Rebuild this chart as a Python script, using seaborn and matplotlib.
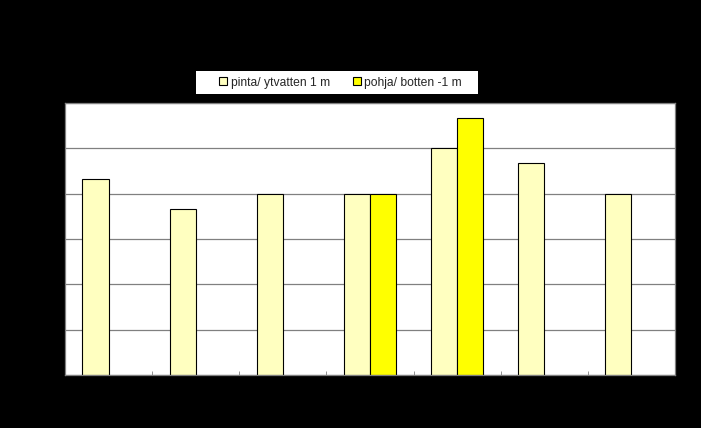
"""
Surface vs bottom (-1 m) measurements per station, bar chart
"""

import numpy as np
import pandas as pd
import matplotlib
matplotlib.use("Agg")
import matplotlib.pyplot as plt
import matplotlib.ticker as mticker
from matplotlib.patches import Patch, Rectangle
import seaborn as sns

# ---------------------------------------------------------------------------
# Data (category labels are not legible there)
# ---------------------------------------------------------------------------
stations = ["1", "2", "3", "4", "5", "6", "7"]
surface = [4.33, 3.67, 4.0, 4.0, 5.0, 4.67, 4.0]
bottom = [np.nan, np.nan, np.nan, 4.0, 5.67, np.nan, np.nan]
series_names = ["pinta/ ytvatten 1 m", "pohja/ botten -1 m"]
y_ticks = [0, 1, 2, 3, 4, 5, 6]

colors = {"pinta/ ytvatten 1 m": "#FFFFC0", "pohja/ botten -1 m": "#FFFF00"}

df = pd.DataFrame({
    "station": stations * 2,
    "value": surface + bottom,
    "series": [series_names[0]] * len(stations) + [series_names[1]] * len(stations),
})

sns.set_style("white")
plt.rcParams["font.family"] = ["Liberation Sans", "DejaVu Sans"]

fig = plt.figure(figsize=(7.01, 4.28), dpi=100, facecolor="black")
ax = fig.add_axes([0.0927, 0.1238, 0.8703, 0.6355])
ax.set_facecolor("white")

sns.barplot(data=df, x="station", y="value", hue="series", order=stations,
            hue_order=series_names, palette=colors, saturation=1, width=0.6,
            dodge=True, edgecolor="black", linewidth=0.8, errorbar=None,
            legend=False, ax=ax)

ax.set_ylim(y_ticks[0], y_ticks[-1])
ax.set_xlim(-0.5, len(stations) - 0.5)
ax.set_yticks(y_ticks)
ax.yaxis.grid(True, color="#808080", linewidth=0.9)
ax.set_axisbelow(True)

# Excel-style tick marks between categories
ax.set_xticks(np.arange(len(stations)))
ax.xaxis.set_minor_locator(mticker.FixedLocator(np.arange(0.5, len(stations) - 0.5, 1)))
ax.tick_params(axis="x", which="major", length=0, colors="black", labelsize=9)
ax.tick_params(axis="x", which="minor", length=3, direction="in", color="#808080", bottom=True)
ax.tick_params(axis="y", colors="black", labelsize=9, length=0)
ax.set_xlabel("")
ax.set_ylabel("")

for side in ["top", "right", "bottom", "left"]:
    ax.spines[side].set_color("#808080")
    ax.spines[side].set_linewidth(0.9)

# white legend box as in the reference
fig.patches.append(Rectangle((0.2796, 0.7804), 0.4023, 0.0537, transform=fig.transFigure,
                             facecolor="white", edgecolor="none", zorder=0))
handles = [Patch(facecolor=colors[s], edgecolor="black", linewidth=0.8) for s in series_names]
fig.legend(handles, series_names, loc="center", bbox_to_anchor=(0.486, 0.807),
           ncol=2, fontsize=8.7, frameon=False,
           handlelength=0.65, handleheight=0.65, handletextpad=0.3,
           columnspacing=1.9)

fig.savefig("out.png", dpi=100, facecolor="black")
